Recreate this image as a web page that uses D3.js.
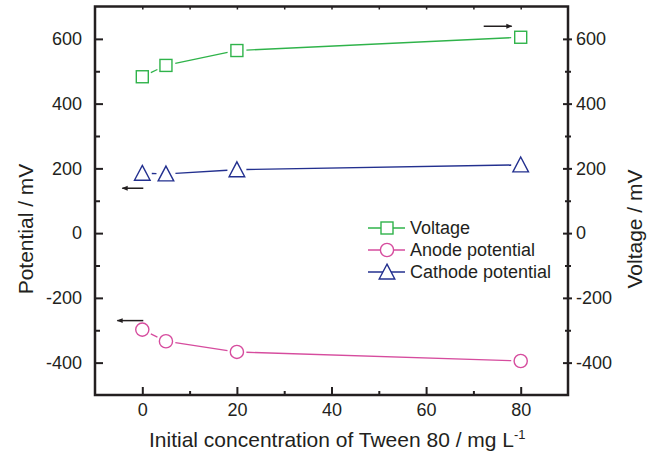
<!DOCTYPE html>
<html>
<head>
<meta charset="utf-8">
<script src="https://cdn.jsdelivr.net/npm/d3@7"></script>
<style>
  html, body { margin: 0; padding: 0; background: #fff; }
  svg { display: block; }
  text { font-family: "Liberation Sans", Arial, sans-serif; fill: #231f20; }
</style>
</head>
<body>
<svg id="chart" width="656" height="454"></svg>
<script>
// Tween 80 concentration (mg/L)
const concentrations = [0, 5, 20, 80];
// Cell voltage (right axis, mV)
const voltage = [483, 518, 564, 605];
// Electrode potentials (left axis, mV)
const anodePotential = [-298, -334, -367, -395];
const cathodePotential = [185, 183, 196, 211];

const xTicks = [0, 20, 40, 60, 80];
const yTicks = [-400, -200, 0, 200, 400, 600];

const colors = { voltage: "#2fb34a", anode: "#d64c9e", cathode: "#23308f" };

const svg = d3.select("#chart");
const margin = { left: 95, right: 88, top: 6.5, bottom: 59 };
const W = 656, H = 454;

const x = d3.scaleLinear().domain([-10, 90]).range([margin.left, W - margin.right]);
const yL = d3.scaleLinear().domain([-500, 700]).range([H - margin.bottom, margin.top]);
const yR = d3.scaleLinear().domain([-500, 700]).range([H - margin.bottom, margin.top]);

const axisColor = "#231f20";
const fontSize = 18;
// plain hyphen for negative numbers
const plain = d => String(d);

const g = svg.append("g");

function styleAxis(sel) {
  sel.select(".domain").remove();
  sel.selectAll(".tick line").attr("stroke", axisColor).attr("stroke-width", 2);
  sel.selectAll(".tick text").style("font-size", fontSize + "px").attr("fill", axisColor);
}

// minor tick positions halfway between majors
const xMinor = d3.range(-10, 91, 10).filter(v => !xTicks.includes(v) && v > -10 && v < 90);
const yMinor = d3.range(-500, 701, 100).filter(v => !yTicks.includes(v) && v > -500 && v < 700);

// bottom axis (ticks inward)
const bottom = g.append("g").attr("transform", `translate(0,${H - margin.bottom})`)
  .call(d3.axisBottom(x).tickValues(xTicks).tickSizeInner(-8).tickSizeOuter(0).tickPadding(8).tickFormat(plain));
styleAxis(bottom);
g.append("g").attr("transform", `translate(0,${H - margin.bottom})`)
  .call(d3.axisBottom(x).tickValues(xMinor).tickSize(-4).tickFormat(""))
  .call(s => { s.select(".domain").remove(); s.selectAll(".tick line").attr("stroke", axisColor).attr("stroke-width", 2); });

// top axis (short ticks inward)
g.append("g").attr("transform", `translate(0,${margin.top})`)
  .call(d3.axisTop(x).tickValues(xTicks.concat(xMinor)).tickSize(-3).tickFormat(""))
  .call(s => { s.select(".domain").remove(); s.selectAll(".tick line").attr("stroke", axisColor).attr("stroke-width", 1.5); });

// left axis (ticks inward)
const left = g.append("g").attr("transform", `translate(${margin.left},0)`)
  .call(d3.axisLeft(yL).tickValues(yTicks).tickSizeInner(-8).tickSizeOuter(0).tickPadding(13).tickFormat(plain));
styleAxis(left);
g.append("g").attr("transform", `translate(${margin.left},0)`)
  .call(d3.axisLeft(yL).tickValues(yMinor).tickSize(-5).tickFormat(""))
  .call(s => { s.select(".domain").remove(); s.selectAll(".tick line").attr("stroke", axisColor).attr("stroke-width", 2); });

// right axis (ticks crossing the spine)
const rx = W - margin.right;
const right = g.append("g").attr("transform", `translate(${rx},0)`)
  .call(d3.axisRight(yR).tickValues(yTicks).tickSizeInner(4).tickSizeOuter(0).tickPadding(4).tickFormat(plain));
styleAxis(right);
right.selectAll(".tick line").attr("x1", -5).attr("x2", 4);
g.append("g").attr("transform", `translate(${rx},0)`)
  .call(d3.axisRight(yR).tickValues(yMinor).tickSize(3).tickFormat(""))
  .call(s => { s.select(".domain").remove(); s.selectAll(".tick line").attr("stroke", axisColor).attr("stroke-width", 2).attr("x1", -3); });

// spines
g.append("rect")
  .attr("x", margin.left).attr("y", margin.top)
  .attr("width", W - margin.left - margin.right).attr("height", H - margin.top - margin.bottom)
  .attr("fill", "none").attr("stroke", axisColor).attr("stroke-width", 2.5);

// series
const series = [
  { name: "Voltage", values: voltage, y: yR, color: colors.voltage, shape: "square" },
  { name: "Anode potential", values: anodePotential, y: yL, color: colors.anode, shape: "circle" },
  { name: "Cathode potential", values: cathodePotential, y: yL, color: colors.cathode, shape: "triangle" }
];

function drawMarker(sel, shape, cx, cy, color) {
  if (shape === "square") {
    sel.append("rect").attr("x", cx - 6).attr("y", cy - 6).attr("width", 12).attr("height", 12)
      .attr("fill", "#fff").attr("stroke", color).attr("stroke-width", 1.4);
  } else if (shape === "circle") {
    sel.append("circle").attr("cx", cx).attr("cy", cy).attr("r", 6.6)
      .attr("fill", "#fff").attr("stroke", color).attr("stroke-width", 1.4);
  } else {
    const s = 7.8;
    sel.append("path")
      .attr("d", `M${cx},${cy - s}L${cx + s},${cy + s * 0.9}L${cx - s},${cy + s * 0.9}Z`)
      .attr("fill", "#fff").attr("stroke", color).attr("stroke-width", 1.4);
  }
}

const gap = 9.5;
series.forEach(s => {
  const pts = concentrations.map((c, i) => [x(c), s.y(s.values[i])]);
  const sg = svg.append("g");
  for (let i = 0; i < pts.length - 1; i++) {
    const [x1, y1] = pts[i], [x2, y2] = pts[i + 1];
    const dx = x2 - x1, dy = y2 - y1, len = Math.hypot(dx, dy);
    if (len <= 2 * gap) continue;
    const ux = dx / len, uy = dy / len;
    sg.append("line")
      .attr("x1", x1 + ux * gap).attr("y1", y1 + uy * gap)
      .attr("x2", x2 - ux * gap).attr("y2", y2 - uy * gap)
      .attr("stroke", s.color).attr("stroke-width", 1.3);
  }
  pts.forEach(p => drawMarker(sg, s.shape, p[0], p[1], s.color));
});

// arrows pointing each series to its axis
svg.append("defs").append("marker")
  .attr("id", "arrowhead").attr("viewBox", "0 0 10 10").attr("refX", 9).attr("refY", 5)
  .attr("markerWidth", 8).attr("markerHeight", 6).attr("markerUnits", "userSpaceOnUse").attr("orient", "auto")
  .append("path").attr("d", "M0,1L10,5L0,9Z").attr("fill", "#231f20");

function arrow(xa, ya, xb, yb) {
  svg.append("line").attr("x1", xa).attr("y1", ya).attr("x2", xb).attr("y2", yb)
    .attr("stroke", "#231f20").attr("stroke-width", 1.5).attr("marker-end", "url(#arrowhead)");
}
arrow(x(0) + 1, yL(cathodePotential[0]) + 15, x(0) - 20, yL(cathodePotential[0]) + 15);
arrow(x(0) + 1, yL(anodePotential[0]) - 9, x(0) - 25, yL(anodePotential[0]) - 9);
arrow(x(80) - 37, yR(voltage[3]) - 11, x(80) - 9, yR(voltage[3]) - 11);

// legend
const legend = svg.append("g").attr("transform", "translate(368,228)");
series.forEach((s, i) => {
  const row = legend.append("g").attr("transform", `translate(0,${i * 22})`);
  row.append("line").attr("x1", 0).attr("x2", 37).attr("y1", 0).attr("y2", 0)
    .attr("stroke", s.color).attr("stroke-width", 1.3);
  drawMarker(row, s.shape, 19, 0, s.color);
  row.append("text").attr("x", 42).attr("y", 0).attr("dy", "0.36em")
    .style("font-size", "18px").text(s.name);
});

// axis titles
svg.append("text")
  .attr("transform", "translate(33,229) rotate(-90)")
  .attr("text-anchor", "middle").style("font-size", "21px").text("Potential / mV");
svg.append("text")
  .attr("transform", "translate(642,229) rotate(-90)")
  .attr("text-anchor", "middle").style("font-size", "21px").text("Voltage / mV");

const xt = svg.append("text")
  .attr("x", 149).attr("y", 446.5)
  .attr("text-anchor", "start").style("font-size", "21px");
xt.append("tspan").text("Initial concentration of Tween 80 / mg L");
xt.append("tspan").attr("dy", -8).style("font-size", "13px").text("-1");
</script>
</body>
</html>
